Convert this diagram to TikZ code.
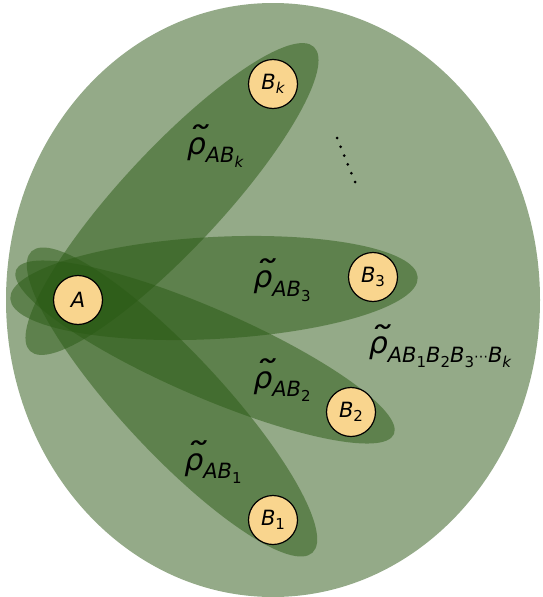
\documentclass[tikz,border=0pt]{standalone}
\usepackage{fontspec}
\setmainfont{DejaVu Sans}
\usetikzlibrary{calc}
\definecolor{bigbg}{HTML}{94AA88}
\definecolor{darkg}{HTML}{2A5A14}
\definecolor{nodefill}{HTML}{F9D58E}
\newcommand{\rtl}{\leavevmode\rlap{\raisebox{0.08em}{\hspace{-0.03em}\scalebox{1.55}[1.15]{\char"02DC}}}ρ}
\tikzset{
  qubit/.style={circle, draw=black, line width=1.2pt, fill=nodefill, minimum size=49pt, inner sep=0pt, font=\fontsize{21}{21}\selectfont\itshape},
  pairell/.style={fill=darkg, fill opacity=0.5, draw=none},
  lab/.style={font=\fontsize{30}{30}\selectfont\itshape, inner sep=0pt}
}
\newcommand{\sbs}[1]{\raisebox{-0.28em}{\fontsize{21}{21}\selectfont #1}}
\newcommand{\ssb}[1]{\raisebox{-0.22em}{\fontsize{15}{15}\selectfont #1}}
\newcommand{\ssd}[1]{\raisebox{-0.22em}{\fontsize{15}{15}\selectfont\upshape #1}}
\begin{document}
\begin{tikzpicture}[x=1pt,y=-1pt]
\useasboundingbox (0,0) rectangle (543,597);
\fill[bigbg] (273,300) ellipse [x radius=267, y radius=297];
% pair ellipses
\fill[pairell] (172,199) ellipse [x radius=208, y radius=50, rotate=47];
\fill[pairell] (214,288) ellipse [x radius=204, y radius=51, rotate=3];
\fill[pairell] (205,352) ellipse [x radius=206, y radius=44, rotate=-23.5];
\fill[pairell] (172,402) ellipse [x radius=206, y radius=50, rotate=-47];
% nodes
\node[qubit] (A) at (78,300) {A};
\node[qubit] (Bk) at (273,84) {B\ssb{k}};
\node[qubit] (B3) at (373,277) {B\ssd{3}};
\node[qubit] (B2) at (351,412) {B\ssd{2}};
\node[qubit] (B1) at (273,520) {B\ssd{1}};
% labels
\node[lab] (lk) at (215,146) {\rtl\sbs{AB\ssb{k}}};
\node[lab] (l3) at (282,280) {\rtl\sbs{AB\ssd{3}}};
\node[lab] (l2) at (282,380) {\rtl\sbs{AB\ssd{2}}};
\node[lab] (l1) at (213,462) {\rtl\sbs{AB\ssd{1}}};
\node[lab] (lall) at (440,346) {\rtl\sbs{AB\ssd{1}B\ssd{2}B\ssd{3}\raisebox{0.05em}{\fontsize{14}{14}\selectfont\upshape ⋯}B\ssb{k}}};
% dots
\foreach \i in {0,...,5} {
  \fill[black] ($(337,138)!\i/5!(355,182)$) circle (1.5pt);
}
\end{tikzpicture}
\end{document}
